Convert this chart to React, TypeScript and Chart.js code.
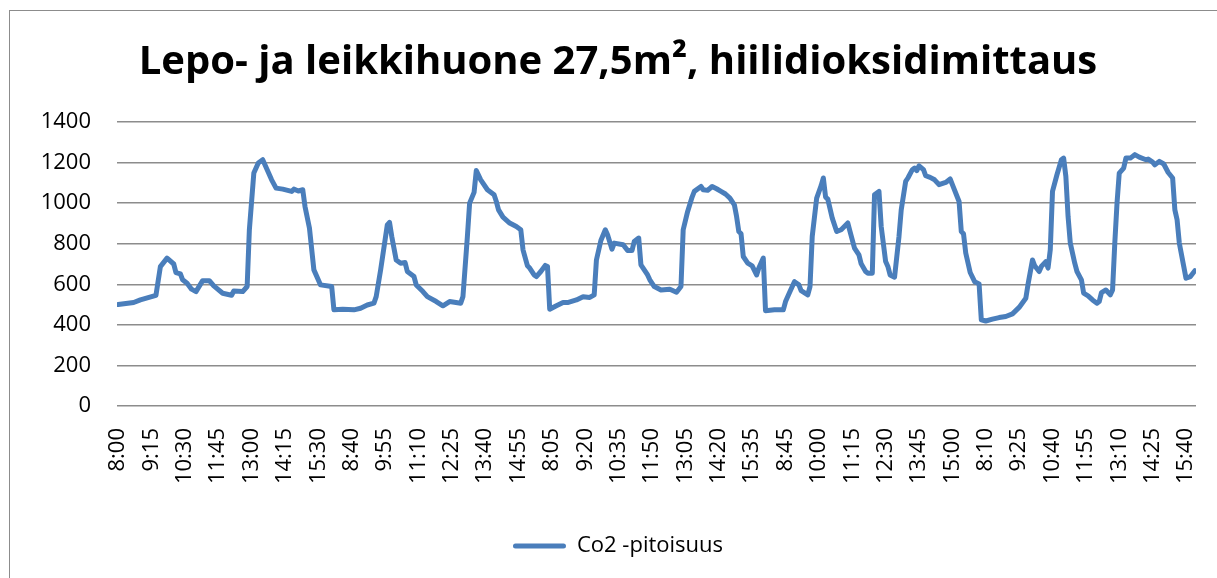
import React, { useEffect, useRef } from 'react';
import { Chart, registerables } from 'chart.js';

Chart.register(...registerables);

const TITLE = 'Lepo- ja leikkihuone 27,5m², hiilidioksidimittaus';
const SERIES_NAME = 'Co2 -pitoisuus';

// Category labels shown on the x axis (one every 15 measurements, 5-minute interval)
const TICK_LABELS = [
  '8:00', '9:15', '10:30', '11:45', '13:00', '14:15', '15:30',
  '8:40', '9:55', '11:10', '12:25', '13:40', '14:55',
  '8:05', '9:20', '10:35', '11:50', '13:05', '14:20', '15:35',
  '8:45', '10:00', '11:15', '12:30', '13:45', '15:00',
  '8:10', '9:25', '10:40', '11:55', '13:10', '14:25', '15:40',
];
const TICK_EVERY = 15;
const STEPS_PER_DAY = 97; // 8:00 ... 16:00 every 5 minutes
const MEASUREMENTS = 485;

// Turning points of the curve per day: measurement step (5-min steps from 8:00) and CO2 value (ppm)
const DAY1_STEP = [0, 7, 10, 17, 19, 22, 25, 26, 28, 29, 31, 33, 35, 38, 41, 43, 47, 51, 52, 56, 58, 59, 61, 63, 65, 67, 69, 71, 74, 78, 79, 81, 83, 84, 86, 88, 91, 96];
const DAY1_CO2 = [500, 510, 523, 545, 687, 729, 700, 658, 651, 622, 605, 576, 564, 618, 618, 592, 556, 546, 567, 564, 589, 869, 1148, 1198, 1214, 1165, 1115, 1074, 1069, 1058, 1069, 1060, 1066, 984, 877, 671, 597, 589];

const DAY2_STEP = [0, 4, 9, 12, 15, 18, 19, 21, 24, 25, 26, 28, 30, 32, 33, 36, 37, 40, 42, 46, 49, 52, 57, 58, 60, 61, 63, 64, 66, 69, 72, 73, 74, 76, 79, 82, 84, 85, 87, 88, 90, 91, 93, 95, 96];
const DAY2_CO2 = [474, 477, 474, 482, 498, 507, 539, 671, 893, 905, 836, 720, 704, 707, 663, 638, 597, 564, 539, 515, 494, 515, 507, 539, 836, 1000, 1053, 1161, 1115, 1066, 1041, 1008, 967, 931, 902, 885, 869, 770, 691, 680, 646, 638, 663, 693, 688];

const DAY3_STEP = [0, 3, 6, 8, 12, 15, 18, 20, 21, 23, 25, 26, 28, 29, 33, 35, 37, 38, 40, 41, 44, 45, 47, 50, 54, 57, 59, 60, 62, 64, 65, 68, 69, 71, 73, 75, 77, 79, 81, 83, 84, 85, 86, 87, 89, 91, 93, 94, 96];
const DAY3_CO2 = [477, 494, 510, 510, 523, 539, 535, 548, 720, 816, 869, 844, 773, 803, 795, 767, 767, 811, 828, 696, 646, 622, 589, 572, 576, 561, 589, 869, 959, 1030, 1058, 1082, 1066, 1063, 1082, 1071, 1058, 1045, 1025, 992, 934, 860, 849, 737, 704, 691, 646, 680, 729];

const DAY4_STEP = [0, 4, 8, 9, 11, 13, 15, 16, 19, 20, 21, 23, 25, 26, 27, 28, 30, 32, 34, 37, 38, 40, 42, 43, 45, 46, 48, 49, 51, 52, 54, 55, 56, 58, 60, 61, 63, 64, 66, 67, 68, 69, 71, 72, 74, 76, 78, 81, 83, 84, 87, 88, 89, 90, 92, 94, 96];
const DAY4_CO2 = [470, 474, 474, 515, 564, 613, 597, 569, 548, 589, 836, 1025, 1086, 1124, 1030, 1020, 926, 860, 869, 902, 860, 778, 745, 701, 663, 655, 655, 1041, 1058, 885, 712, 688, 646, 635, 836, 967, 1107, 1124, 1165, 1173, 1160, 1184, 1165, 1135, 1127, 1115, 1091, 1102, 1119, 1091, 1008, 860, 849, 754, 658, 613, 602];

const DAY5_STEP = [0, 2, 5, 8, 11, 14, 17, 20, 21, 23, 24, 26, 27, 29, 30, 31, 32, 34, 36, 37, 38, 39, 40, 42, 43, 45, 46, 48, 50, 52, 53, 54, 56, 58, 59, 60, 61, 62, 64, 65, 67, 69, 71, 74, 75, 77, 78, 80, 82, 84, 86, 87, 88, 89, 91, 92, 94, 96];
const DAY5_CO2 = [425, 419, 428, 436, 441, 454, 486, 531, 600, 720, 691, 663, 688, 712, 680, 770, 1058, 1140, 1214, 1222, 1132, 934, 803, 704, 663, 622, 556, 543, 523, 507, 515, 559, 572, 548, 572, 803, 1000, 1148, 1173, 1222, 1222, 1239, 1227, 1214, 1217, 1202, 1189, 1206, 1193, 1151, 1124, 967, 918, 803, 688, 630, 638, 667];

const Y_MIN = 0;
const Y_MAX = 1400;
const Y_STEP = 200;

const DAYS = [
  { steps: DAY1_STEP, co2: DAY1_CO2 },
  { steps: DAY2_STEP, co2: DAY2_CO2 },
  { steps: DAY3_STEP, co2: DAY3_CO2 },
  { steps: DAY4_STEP, co2: DAY4_CO2 },
  { steps: DAY5_STEP, co2: DAY5_CO2 },
];

const LINE_COLOR = '#4a7ebb';
const FONT = 'Open Sans';

export default function App() {
  const canvasRef = useRef<HTMLCanvasElement | null>(null);

  useEffect(() => {
    if (!canvasRef.current) return;
    const points = DAYS.flatMap((d, k) =>
      d.steps.map((s, i) => ({ x: k * STEPS_PER_DAY + s, y: d.co2[i] }))
    );
    const chart = new Chart(canvasRef.current, {
      type: 'line',
      data: {
        datasets: [
          {
            label: SERIES_NAME,
            data: points,
            borderColor: LINE_COLOR,
            backgroundColor: LINE_COLOR,
            borderWidth: 5,
            pointRadius: 0,
            tension: 0,
            borderJoinStyle: 'round',
            borderCapStyle: 'round',
            fill: false,
          },
        ],
      },
      options: {
        animation: false,
        responsive: false,
        maintainAspectRatio: false,
        layout: { padding: { left: 40, right: 21, top: 10, bottom: 11 } },
        plugins: {
          title: {
            display: true,
            text: TITLE,
            color: '#000',
            font: { family: FONT, size: 40, weight: 'bold' },
            padding: { top: 29, bottom: 35 },
          },
          legend: {
            position: 'bottom',
            labels: {
              boxWidth: 53,
              boxHeight: 5,
              padding: 10,
              color: '#000',
              font: { family: FONT, size: 22 },
              generateLabels: () => [
                {
                  text: SERIES_NAME,
                  fillStyle: LINE_COLOR,
                  strokeStyle: LINE_COLOR,
                  lineWidth: 0,
                  borderRadius: 2.5,
                  datasetIndex: 0,
                  hidden: false,
                  fontColor: '#000',
                },
              ],
            },
          },
          tooltip: { enabled: false },
        },
        scales: {
          x: {
            type: 'linear',
            min: -0.5,
            max: MEASUREMENTS - 0.5,
            grid: { display: false, drawTicks: false },
            border: { display: false },
            afterBuildTicks: (s: any) => {
              s.ticks = TICK_LABELS.map((_, i) => ({ value: i * TICK_EVERY }));
            },
            afterFit: (s: any) => {
              s.height = 119;
              s.paddingLeft = 0;
              s.paddingRight = 0;
            },
            ticks: {
              autoSkip: false,
              minRotation: 90,
              maxRotation: 90,
              padding: 22,
              color: '#000',
              font: { family: FONT, size: 22 },
              callback: (v: any) => TICK_LABELS[Math.round(Number(v) / TICK_EVERY)] ?? '',
            },
          },
          y: {
            min: Y_MIN,
            max: Y_MAX,
            grid: { color: '#8c8c8c', lineWidth: 1.5, drawTicks: false },
            border: { display: false },
            afterFit: (s: any) => {
              s.width = 77;
            },
            ticks: {
              stepSize: Y_STEP,
              padding: 26,
              color: '#000',
              font: { family: FONT, size: 22 },
              callback: (v: any) => String(v),
            },
          },
        },
      },
    });
    return () => chart.destroy();
  }, []);

  return (
    <div style={{ position: 'absolute', left: 0, top: 0, width: 1217, height: 578, background: '#fff', overflow: 'hidden' }}>
      <div
        style={{
          position: 'absolute',
          left: 9,
          top: 10,
          width: 1220,
          height: 580,
          borderLeft: '1.5px solid #8c8c8c',
          borderTop: '1.5px solid #8c8c8c',
        }}
      />
      <canvas ref={canvasRef} width={1217} height={578} style={{ position: 'absolute', left: 0, top: 0, display: 'block' }} />
    </div>
  );
}
